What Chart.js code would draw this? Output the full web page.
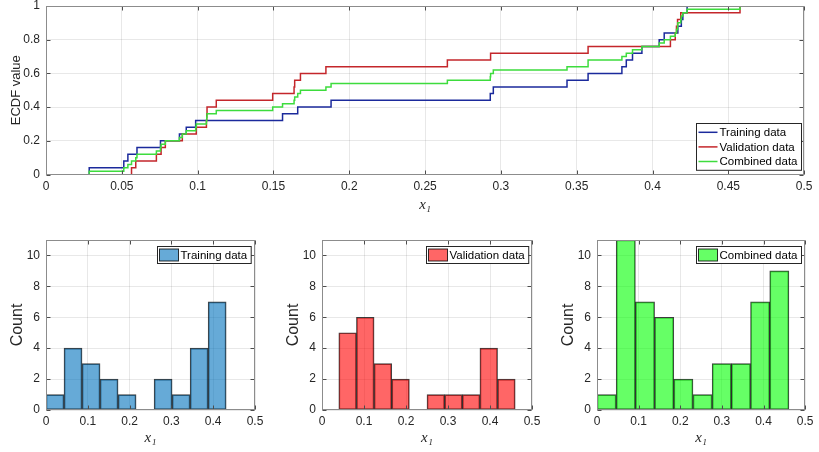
<!DOCTYPE html>
<html>
<head>
<meta charset="utf-8">
<script src="https://cdn.jsdelivr.net/npm/chart.js@4/dist/chart.umd.min.js"></script>
<style>
  body { margin: 0; background: #fff; width: 819px; height: 452px; position: relative; overflow: hidden; }
  canvas { position: absolute; }
</style>
</head>
<body>
<canvas id="ecdfChart" width="819" height="222" style="left:0;top:0"></canvas>
<canvas id="trainHist" width="270" height="227" style="left:0;top:225px"></canvas>
<canvas id="valHist" width="270" height="227" style="left:276px;top:225px"></canvas>
<canvas id="combHist" width="268" height="227" style="left:551px;top:225px"></canvas>
<script>
// ECDF sample positions (sorted) and step levels
const trainX = [0.0285, 0.0513, 0.054, 0.060, 0.0755, 0.088, 0.0925, 0.0987, 0.156, 0.166, 0.188, 0.293, 0.295,
  0.3436, 0.3575, 0.3798, 0.3827, 0.3868, 0.393, 0.4044, 0.4077, 0.4167, 0.419, 0.420, 0.4228];
const trainF = [0, 0.04, 0.08, 0.12, 0.16, 0.2, 0.24, 0.28, 0.32, 0.36, 0.4, 0.44, 0.48, 0.52,
  0.56, 0.6, 0.64, 0.68, 0.72, 0.76, 0.8, 0.84, 0.88, 0.92, 0.96, 1];

const valX = [0.0564, 0.0592, 0.0728, 0.0759, 0.0787, 0.0899, 0.0991, 0.1058, 0.106, 0.1062, 0.1123, 0.1495, 0.1636,
  0.164, 0.1678, 0.1846, 0.2647, 0.2932, 0.3575, 0.4118, 0.415, 0.4158, 0.4165, 0.4186, 0.4577];
const valF = [0, 0.04, 0.08, 0.12, 0.16, 0.2, 0.24, 0.28, 0.32, 0.36, 0.4, 0.44, 0.48, 0.52,
  0.56, 0.6, 0.64, 0.68, 0.72, 0.76, 0.8, 0.84, 0.88, 0.92, 0.96, 1];

const combX = [0.0285, 0.0513, 0.054, 0.0564, 0.0592, 0.060, 0.0728, 0.0755, 0.0759, 0.0787, 0.088, 0.0899, 0.0925,
  0.0987, 0.0991, 0.1058, 0.106, 0.1062, 0.1123, 0.1495, 0.156, 0.1636, 0.164, 0.166, 0.1678, 0.1846, 0.188,
  0.2647, 0.293, 0.2932, 0.295, 0.3436, 0.3575, 0.3575, 0.3798, 0.3827, 0.3868, 0.393, 0.4044, 0.4077, 0.4118,
  0.415, 0.4158, 0.4165, 0.4167, 0.4186, 0.419, 0.420, 0.4228, 0.4577];
const combF = [0, 0.02, 0.04, 0.06, 0.08, 0.1, 0.12, 0.14, 0.16, 0.18, 0.2, 0.22, 0.24, 0.26, 0.28, 0.3, 0.32,
  0.34, 0.36, 0.38, 0.4, 0.42, 0.44, 0.46, 0.48, 0.5, 0.52, 0.54, 0.56, 0.58, 0.6, 0.62, 0.64, 0.66, 0.68, 0.7,
  0.72, 0.74, 0.76, 0.78, 0.8, 0.82, 0.84, 0.86, 0.88, 0.9, 0.92, 0.94, 0.96, 0.98, 1];

// histogram bin edges and counts
const trainEdges = [0, 0.0431, 0.0862, 0.1293, 0.1724, 0.2155, 0.2586, 0.3017, 0.3448, 0.3879, 0.431];
const trainCounts = [1, 4, 3, 2, 1, 0, 2, 1, 4, 7];
const valEdges = [0.04, 0.082, 0.124, 0.166, 0.208, 0.25, 0.292, 0.334, 0.376, 0.418, 0.46];
const valCounts = [5, 6, 3, 2, 0, 1, 1, 1, 4, 2];
const combEdges = [0, 0.0461, 0.0922, 0.1383, 0.1844, 0.2305, 0.2766, 0.3227, 0.3688, 0.4149, 0.461];
const combCounts = [1, 11, 7, 6, 2, 1, 3, 3, 7, 9];

const seriesNames = ['Training data', 'Validation data', 'Combined data'];

const FONT = '"Liberation Sans", Arial, Helvetica, sans-serif';
const SERIF = '"Liberation Serif", "DejaVu Serif", "Times New Roman", serif';
const TXT = '#262626';
const GRID = 'rgba(0, 0, 0, 0.09)';
const TICK_FONT = { family: FONT, size: 12, lineHeight: 1 };

// plain number labels like MATLAB: 0, 0.05, 0.1 ...
const tickLabel = v => String(Number(Number(v).toFixed(4)));

// MATLAB-like box around the axes, with small inward tick marks
const framePlugin = {
  id: 'frame',
  afterDatasetsDraw(chart) {
    const { ctx, chartArea: a, scales: { x, y } } = chart;
    const l = Math.round(a.left) + 0.5, r = Math.round(a.right) - 0.5;
    const t = Math.round(a.top) + 0.5, b = Math.round(a.bottom) - 0.5;
    ctx.save();
    ctx.strokeStyle = '#4d4d4d';
    ctx.lineWidth = 1;
    ctx.beginPath();
    x.ticks.forEach(tk => {
      const px = Math.round(x.getPixelForValue(tk.value)) + 0.5;
      ctx.moveTo(px, b); ctx.lineTo(px, b - 4);
      ctx.moveTo(px, t); ctx.lineTo(px, t + 4);
    });
    y.ticks.forEach(tk => {
      const py = Math.round(y.getPixelForValue(tk.value)) + 0.5;
      ctx.moveTo(l, py); ctx.lineTo(l + 4, py);
      ctx.moveTo(r, py); ctx.lineTo(r - 4, py);
    });
    ctx.stroke();
    ctx.strokeStyle = '#8c8c8c';
    ctx.strokeRect(l, t, r - l, b - t);
    ctx.restore();
  }
};

// legend box drawn inside the axes (bottom-right for lines, top-right for patches)
function boxLegend(items, kind) {
  return {
    id: 'boxLegend',
    afterDraw(chart) {
      const { ctx, chartArea: a } = chart;
      ctx.save();
      ctx.font = '11.5px ' + FONT;
      const rowH = 14.6;
      const tw = Math.max(...items.map(it => ctx.measureText(it.label).width));
      const w = 23 + tw + 4;
      const h = kind === 'line' ? items.length * rowH + 3 : 17;
      const x = Math.round(a.right - (kind === 'line' ? 3 : 4) - w) + 0.5;
      const y = Math.round(kind === 'line' ? a.bottom - 4.5 - h : a.top + 6) + 0.5;
      ctx.fillStyle = '#fff';
      ctx.fillRect(x, y, w, h);
      ctx.strokeStyle = '#262626';
      ctx.lineWidth = 1;
      ctx.strokeRect(x, y, w, h);
      items.forEach((it, i) => {
        const cy = kind === 'line' ? y + 1.5 + rowH * (i + 0.5) : y + h / 2;
        if (kind === 'line') {
          ctx.strokeStyle = it.color;
          ctx.lineWidth = 1.5;
          ctx.beginPath();
          ctx.moveTo(x + 2, cy);
          ctx.lineTo(x + 21, cy);
          ctx.stroke();
        } else {
          ctx.fillStyle = it.color;
          ctx.fillRect(x + 2, cy - 6, 19, 12);
          ctx.strokeStyle = 'rgba(0,0,0,0.8)';
          ctx.lineWidth = 1;
          ctx.strokeRect(x + 2, cy - 6, 19, 12);
        }
        ctx.fillStyle = '#000';
        ctx.textBaseline = 'middle';
        ctx.textAlign = 'left';
        ctx.fillText(it.label, x + 23, cy + 0.5);
      });
      ctx.restore();
    }
  };
}

function xAxis(step, height, tickPad, titlePad) {
  return {
    type: 'linear', min: 0, max: 0.5, offset: false,
    grid: { color: GRID, drawTicks: false, offset: false },
    border: { display: false },
    ticks: { stepSize: step, padding: tickPad, color: TXT, font: TICK_FONT, maxRotation: 0, autoSkip: false, callback: tickLabel },
    title: {
      display: true, text: 'x₁', color: TXT,
      font: { family: SERIF, size: 15, style: 'italic' },
      padding: { top: 0, bottom: titlePad }
    },
    afterFit: s => { s.height = height; }
  };
}

function yAxis(max, step, title, titleSize, titlePad) {
  return {
    type: 'linear', min: 0, max: max,
    grid: { color: GRID, drawTicks: false },
    border: { display: false },
    ticks: { stepSize: step, padding: 6, color: TXT, font: TICK_FONT, includeBounds: false, callback: tickLabel },
    title: {
      display: true, text: title, color: TXT,
      font: { family: FONT, size: titleSize },
      padding: { top: titlePad, bottom: 0 }
    },
    afterFit: s => { s.width = 46; s.paddingTop = 0; s.paddingBottom = 0; }
  };
}

function ecdfPoints(xs, fs) {
  return [{ x: xs[0], y: fs[0] }].concat(xs.map((x, i) => ({ x: x, y: fs[i + 1] })));
}

const lineColors = ['#1b2a9c', '#c4262b', '#3ddc3d'];

new Chart(document.getElementById('ecdfChart'), {
  type: 'line',
  data: {
    datasets: [
      { label: seriesNames[0], data: ecdfPoints(trainX, trainF), borderColor: lineColors[0], order: 2 },
      { label: seriesNames[1], data: ecdfPoints(valX, valF), borderColor: lineColors[1], order: 1 },
      { label: seriesNames[2], data: ecdfPoints(combX, combF), borderColor: lineColors[2], order: 0 }
    ].map(d => Object.assign(d, { stepped: 'before', borderWidth: 1.5, pointRadius: 0, fill: false }))
  },
  options: {
    responsive: false,
    animation: false,
    layout: { padding: { top: 6, right: 13, left: 0, bottom: 0 } },
    scales: {
      x: xAxis(0.05, 47.5, 6.5, 8),
      y: yAxis(1, 0.2, 'ECDF value', 13, 9)
    },
    plugins: { legend: { display: false }, tooltip: { enabled: false } }
  },
  plugins: [framePlugin, boxLegend(seriesNames.map((n, i) => ({ label: n, color: lineColors[i] })), 'line')]
});

const histColors = ['rgba(0, 114, 189, 0.6)', 'rgba(255, 0, 0, 0.6)', 'rgba(0, 255, 0, 0.6)'];

function histChart(id, edges, counts, idx, padRight) {
  const points = counts.map((c, i) => ({ x: (edges[i] + edges[i + 1]) / 2, y: c }));
  new Chart(document.getElementById(id), {
    type: 'bar',
    data: {
      datasets: [{
        label: seriesNames[idx],
        data: points,
        backgroundColor: histColors[idx],
        borderColor: 'rgba(0, 0, 0, 0.75)',
        borderWidth: c => (c.raw && c.raw.y > 0 ? 1 : 0),
        borderSkipped: false,
        barPercentage: 1,
        categoryPercentage: 1
      }]
    },
    options: {
      responsive: false,
      animation: false,
      layout: { padding: { top: 15, right: padRight, left: 0, bottom: 0 } },
      scales: {
        x: xAxis(0.1, 42, 5.5, 4.7),
        y: yAxis(11, 2, 'Count', 16, 7.5)
      },
      plugins: { legend: { display: false }, tooltip: { enabled: false } }
    },
    plugins: [framePlugin, boxLegend([{ label: seriesNames[idx], color: histColors[idx] }], 'patch')]
  });
}

histChart('trainHist', trainEdges, trainCounts, 0, 15);
histChart('valHist', valEdges, valCounts, 1, 14);
histChart('combHist', combEdges, combCounts, 2, 12);
</script>
</body>
</html>
